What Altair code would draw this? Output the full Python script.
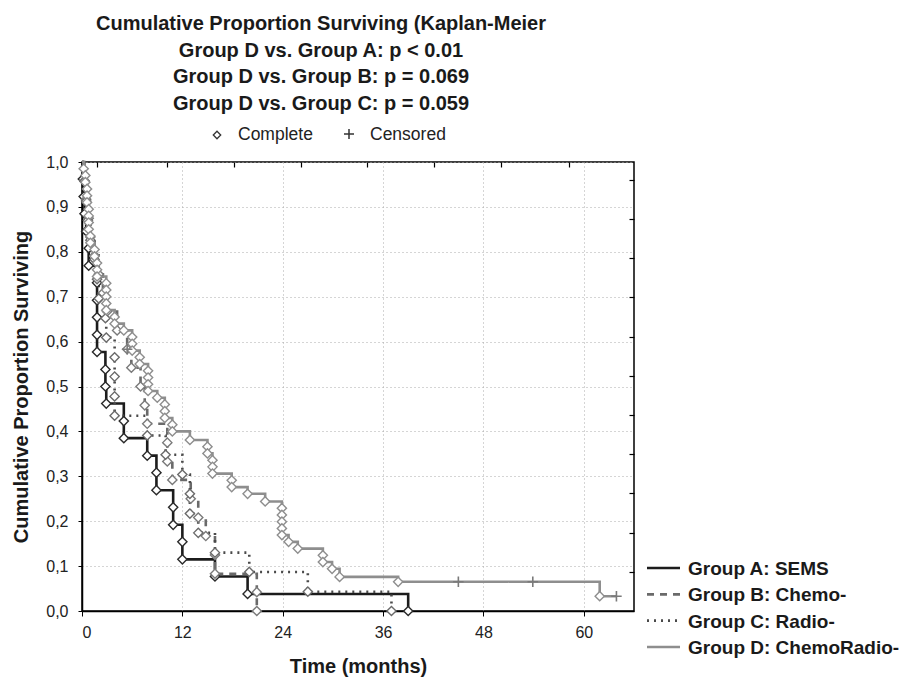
import altair as alt
import pandas as pd

groups = ["Group A: SEMS", "Group B: Chemo-", "Group C: Radio-", "Group D: ChemoRadio-"]

# Event times (months) and survival after each event
a_time = [0.1, 0.2, 0.3, 0.5, 0.8, 0.8, 1.8, 1.8, 1.8, 1.8, 1.8, 2.8, 2.8, 2.9, 5.0, 5.0,
          7.8, 8.9, 8.9, 10.9, 10.9, 12.0, 12.0, 15.9, 19.8, 39.0]
a_surv = [0.962, 0.923, 0.885, 0.846, 0.808, 0.769, 0.731, 0.692, 0.654, 0.615, 0.577, 0.538,
          0.500, 0.462, 0.423, 0.385, 0.346, 0.308, 0.269, 0.231, 0.192, 0.154, 0.115, 0.077,
          0.038, 0.0]

b_time = [0.3, 0.5, 0.8, 1.0, 1.5, 2.0, 2.5, 3.0, 4.2, 5.4, 5.9, 7.0, 7.5, 7.8, 10.2, 10.2,
          10.8, 13.0, 13.9, 14.8, 15.9, 15.9, 20.9, 20.9]
b_surv = [0.958, 0.917, 0.875, 0.833, 0.792, 0.750, 0.708, 0.667, 0.625, 0.583, 0.542, 0.500,
          0.458, 0.417, 0.375, 0.333, 0.292, 0.250, 0.208, 0.167, 0.125, 0.083, 0.042, 0.0]

c_time = [0.3, 0.5, 0.7, 1.0, 1.5, 1.8, 2.0, 2.8, 2.9, 3.9, 3.9, 3.9, 3.9, 7.8, 10.0, 12.0,
          12.9, 12.9, 13.9, 15.9, 20.0, 27.0, 37.0]
c_surv = [0.957, 0.913, 0.870, 0.826, 0.783, 0.739, 0.696, 0.652, 0.609, 0.565, 0.522, 0.478,
          0.435, 0.391, 0.348, 0.304, 0.261, 0.217, 0.174, 0.130, 0.087, 0.043, 0.0]

d_time = [0.2, 0.4, 0.4, 0.6, 0.6, 0.6, 0.8, 0.8, 0.8, 0.8, 1.0, 1.0, 1.5, 1.5, 1.8, 1.8, 1.8,
          2.9, 2.9, 2.9, 2.9, 2.9, 3.9, 3.9, 5.0, 6.0, 6.0, 6.0, 6.9, 6.9, 7.9, 7.9, 7.9, 7.9,
          9.0, 9.9, 9.9, 9.9, 10.8, 10.8, 12.9, 15.0, 15.0, 15.6, 15.6, 15.6, 17.9, 17.9, 19.8,
          21.9, 23.9, 23.9, 23.9, 23.9, 23.9, 24.7, 25.8, 28.8, 28.8, 29.9, 30.8, 37.8, 61.9]
d_surv = [0.985, 0.970, 0.955, 0.940, 0.925, 0.910, 0.895, 0.880, 0.865, 0.850, 0.835, 0.820,
          0.805, 0.790, 0.775, 0.760, 0.745, 0.730, 0.715, 0.700, 0.685, 0.670, 0.655, 0.640,
          0.625, 0.610, 0.595, 0.580, 0.565, 0.550, 0.535, 0.520, 0.505, 0.490, 0.475, 0.460,
          0.445, 0.430, 0.415, 0.400, 0.381, 0.366, 0.351, 0.336, 0.321, 0.306, 0.291, 0.276,
          0.261, 0.244, 0.229, 0.214, 0.199, 0.184, 0.169, 0.154, 0.139, 0.124, 0.109, 0.094,
          0.076, 0.065, 0.033]

# Censored observations
cens_group = ["Group B: Chemo-", "Group D: ChemoRadio-", "Group D: ChemoRadio-", "Group D: ChemoRadio-"]
cens_time = [5.4, 45.0, 53.9, 63.9]
cens_surv = [0.583, 0.065, 0.065, 0.033]

x_ticks = [0, 12, 24, 36, 48, 60]
y_ticks = [0.0, 0.1, 0.2, 0.3, 0.4, 0.5, 0.6, 0.7, 0.8, 0.9, 1.0]
# the unlabelled inner tick marks on the top and right frame (own arbitrary units)
top_ticks = [0.22, 1.27, 2.27, 3.27, 4.26, 5.26, 6.26, 7.27]
top_domain = [0, 8.24]
right_ticks = [1, 2, 3, 4, 5, 6, 7, 8, 9, 10, 11]
right_domain = [0, 11.45]

title_lines = ["Cumulative Proportion Surviving (Kaplan-Meier",
               "Group D vs. Group A:  p < 0.01",
               "Group D vs. Group B:  p = 0.069",
               "Group D vs. Group C: p = 0.059"]

line_colors = ["#1c1c1c", "#6a6a6a", "#4a4a4a", "#8e8e8e"]
marker_colors = ["#2a2a2a", "#7a7a7a", "#6a6a6a", "#8e8e8e"]
dashes = [[1, 0], [7, 6], [2, 5], [1, 0]]

# ---- build tables ----
series = {groups[0]: (a_time, a_surv), groups[1]: (b_time, b_surv),
          groups[2]: (c_time, c_surv), groups[3]: (d_time, d_surv)}
line_rows, mark_rows = [], []
for g, (ts, ss) in series.items():
    pts = [(0.0, 1.0)] + list(zip(ts, ss))
    for ct, cs, cg in zip(cens_time, cens_surv, cens_group):
        if cg == g and ct > ts[-1]:
            pts.append((ct, cs))
    for i, (t, s) in enumerate(pts):
        line_rows.append({"group": g, "t": t, "s": s, "i": i})
    for t, s in zip(ts, ss):
        mark_rows.append({"group": g, "t": t, "s": s})
lines_df = pd.DataFrame(line_rows)
marks_df = pd.DataFrame(mark_rows)
cens_df = pd.DataFrame({"group": cens_group, "t": cens_time, "s": cens_surv})
legend_df = pd.DataFrame({"group": groups, "row": list(range(len(groups))),
                          "col": line_colors, "dash": dashes})

xscale = alt.Scale(domain=[0, 66], nice=False)
yscale = alt.Scale(domain=[0, 1], nice=False)

x_enc = alt.X("t:Q", scale=xscale, axis=alt.Axis(
    values=x_ticks, title="Time (months)", titleFontSize=20, titleFontWeight="bold",
    titleColor="#1a1a1a", titlePadding=16, labelFontSize=16, labelColor="#222",
    labelPadding=8, tickSize=5, tickColor="black", domainColor="black", domainWidth=1.5,
    grid=True, gridDash=[1, 3], gridColor="#aaaaaa", gridWidth=1))
y_enc = alt.Y("s:Q", scale=yscale, axis=alt.Axis(
    values=y_ticks, labelExpr="replace(format(datum.value, '.1f'), '.', ',')",
    title="Cumulative Proportion Surviving", titleFontSize=20, titleFontWeight="bold",
    titleColor="#1a1a1a", titlePadding=14, labelFontSize=16, labelColor="#222",
    labelPadding=10, tickSize=4, tickColor="black", domainColor="black", domainWidth=1.5,
    grid=True, gridDash=[1, 3], gridColor="#aaaaaa", gridWidth=1))

lines = alt.Chart(lines_df).mark_line(interpolate="step-after", strokeWidth=2.6).encode(
    x=x_enc, y=y_enc,
    color=alt.Color("group:N", scale=alt.Scale(domain=groups, range=line_colors), legend=None),
    strokeDash=alt.StrokeDash("group:N", scale=alt.Scale(domain=groups, range=dashes), legend=None),
    order="i:Q",
)

diamonds = alt.Chart(marks_df).mark_point(shape="diamond", size=85, filled=True,
                                          strokeWidth=1.4, opacity=1).encode(
    x="t:Q", y="s:Q",
    stroke=alt.Stroke("group:N", scale=alt.Scale(domain=groups, range=marker_colors), legend=None),
    fill=alt.value("white"),
)

crosses = alt.Chart(cens_df).mark_point(shape="M-1,0L1,0M0,-1L0,1", size=110,
                                        strokeWidth=1.6, opacity=1).encode(
    x="t:Q", y="s:Q", color=alt.value("#7a7a7a"),
)

main = alt.layer(lines, diamonds, crosses).resolve_scale(color="independent")

# inner frame ticks on top and right
frame_df = pd.DataFrame({"fx": [top_ticks[0]], "fy": [right_ticks[0]]})
frame_ticks = alt.Chart(frame_df).mark_point(opacity=0).encode(
    x=alt.X("fx:Q", scale=alt.Scale(domain=top_domain, nice=False, zero=False),
            axis=alt.Axis(orient="top", values=top_ticks, labels=False, domain=False, grid=False,
                          title=None, tickSize=5, tickColor="black", tickWidth=1.2, offset=-5)),
    y=alt.Y("fy:Q", scale=alt.Scale(domain=right_domain, nice=False, zero=False),
            axis=alt.Axis(orient="right", values=right_ticks, labels=False, domain=False, grid=False,
                          title=None, tickSize=5, tickColor="black", tickWidth=1.2, offset=-5)),
)

# line-style key to the right of the plot
leg_y = alt.Y("row:Q", scale=alt.Scale(domain=[0, 3], range=[406, 485]), axis=None)
legend_lines = alt.Chart(legend_df).mark_rule(strokeWidth=2.6).encode(
    x=alt.value(565), x2=alt.value(598), y=leg_y,
    color=alt.Color("col:N", scale=None),
    strokeDash=alt.StrokeDash("dash", scale=None),
)
legend_text = alt.Chart(legend_df).mark_text(
    fontSize=19, fontWeight="bold", color="#1a1a1a", align="left", baseline="middle", dy=1
).encode(x=alt.value(606), y=leg_y, text="group:N")
legend = alt.layer(legend_lines, legend_text)

one = pd.DataFrame({"k": [0]})
title_layers = []
for k, txt in enumerate(title_lines):
    title_layers.append(alt.Chart(one).mark_text(
        fontSize=20, fontWeight="bold", color="#1a1a1a", align="center", baseline="middle"
    ).encode(x=alt.value(239), y=alt.value(-138 + 26.7 * k), text=alt.value(txt)))

key_diamond = alt.Chart(one).mark_point(shape="diamond", size=55, filled=True, strokeWidth=1.3,
                                        opacity=1).encode(
    x=alt.value(135), y=alt.value(-27), fill=alt.value("white"), stroke=alt.value("#333"))
key_cross = alt.Chart(one).mark_point(shape="M-1,0L1,0M0,-1L0,1", size=100, strokeWidth=1.5,
                                      opacity=1).encode(
    x=alt.value(267), y=alt.value(-28), color=alt.value("#333"))
key_t1 = alt.Chart(one).mark_text(fontSize=17.5, color="#222", align="left", baseline="middle").encode(
    x=alt.value(156), y=alt.value(-27), text=alt.value("Complete"))
key_t2 = alt.Chart(one).mark_text(fontSize=17.5, color="#222", align="left", baseline="middle").encode(
    x=alt.value(288), y=alt.value(-27), text=alt.value("Censored"))

chart = alt.layer(main, frame_ticks, legend, *title_layers, key_diamond, key_cross, key_t1, key_t2
).resolve_scale(x="independent", y="independent", color="independent",
                strokeDash="independent").properties(
    width=552, height=449,
    padding={"left": 74, "top": 154, "right": 273, "bottom": 68},
    autosize=alt.AutoSizeParams(type="none"),
).configure(font="Liberation Sans").configure_view(
    stroke="black", strokeWidth=1.5
)

chart.save("out.html", embed_options={"renderer": "svg", "actions": False})
